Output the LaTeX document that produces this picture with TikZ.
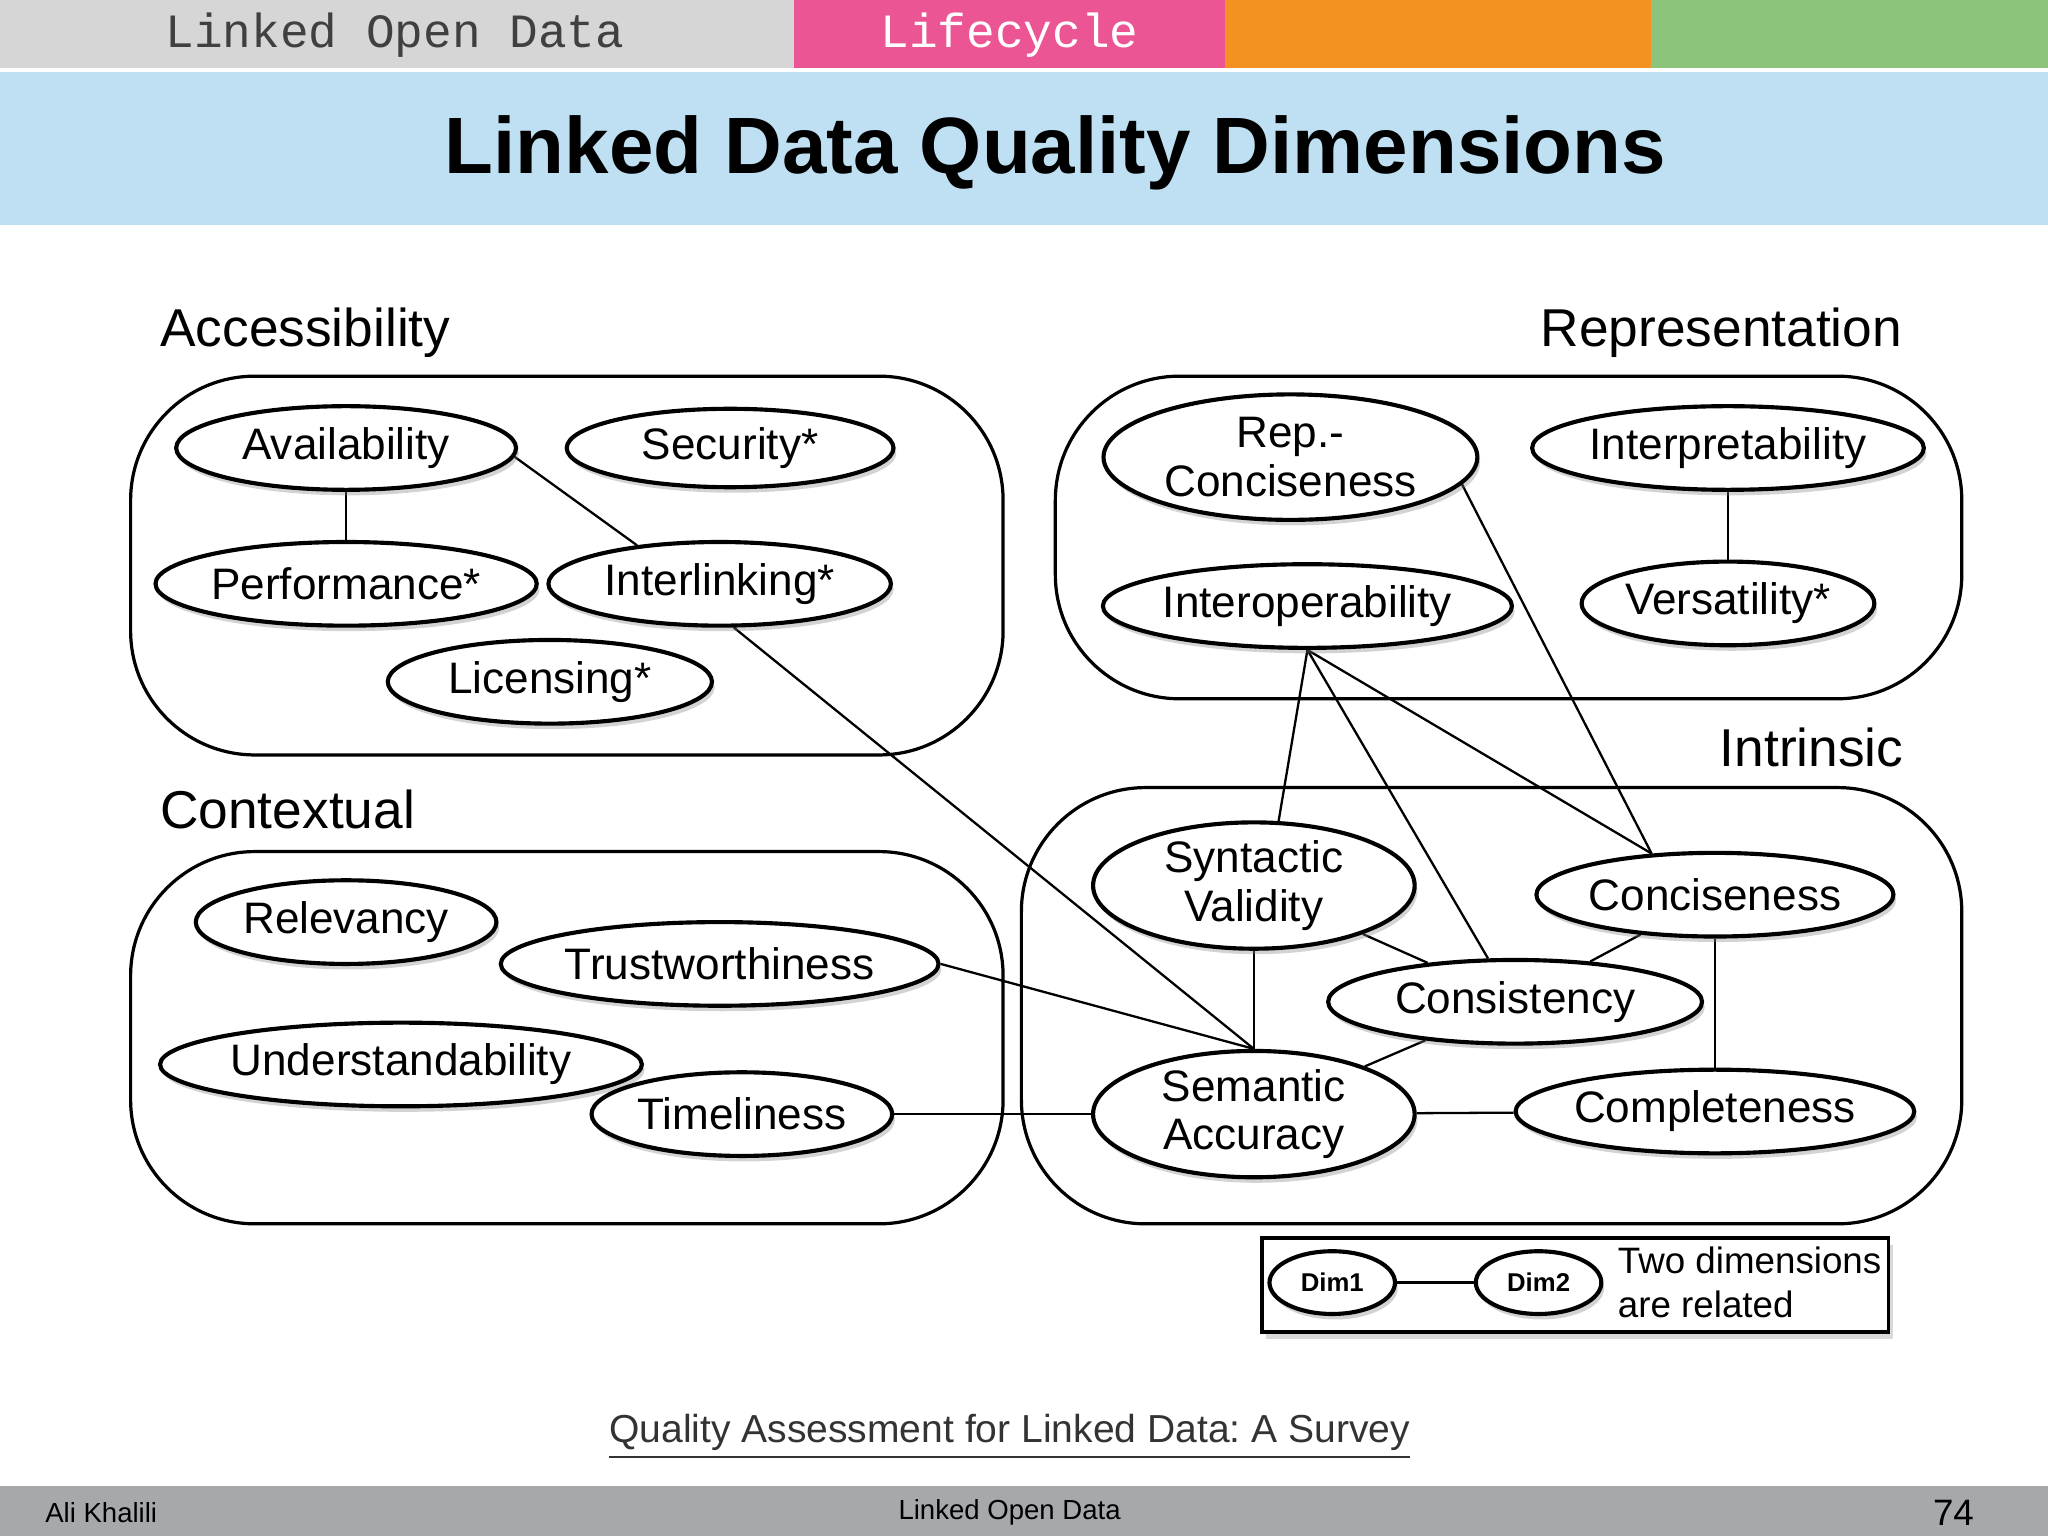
\documentclass[tikz,border=0pt]{standalone}
\usepackage{fontspec}
\setmainfont{Liberation Sans}
\newfontfamily\monof{Liberation Mono}
\usetikzlibrary{shapes.geometric,shadows,backgrounds}
\frenchspacing
\definecolor{topgray}{HTML}{D6D6D6}
\definecolor{tpink}{HTML}{EC5593}
\definecolor{torange}{HTML}{F39121}
\definecolor{tgreen}{HTML}{8DC47C}
\definecolor{tblue}{HTML}{BEE0F2}
\definecolor{fgray}{HTML}{A6A9AB}
\tikzset{
 dim/.style 2 args={ellipse, draw, line width=0.9pt, fill=white, inner sep=0pt,
   minimum width=#1*0.02cm, minimum height=#2*0.02cm, font=\fontsize{9.6}{10.5}\selectfont, align=center,
   drop shadow={shadow xshift=0.6pt, shadow yshift=-1.2pt, opacity=0.35}},
 grp/.style={draw, line width=0.7pt, rounded corners=0.95cm},
 glabel/.style={font=\fontsize{11.6}{13}\selectfont, inner sep=0pt},
 rel/.style={line width=0.5pt}
}
\begin{document}
\begin{tikzpicture}[x=0.01cm,y=-0.01cm]
\useasboundingbox (0,0) rectangle (1568,1176);
% top bar
\fill[topgray] (0,0) rectangle (608,52);
\fill[tpink] (608,0) rectangle (938,52);
\fill[torange] (938,0) rectangle (1264,52);
\fill[tgreen] (1264,0) rectangle (1568,52);
\node[font=\monof\fontsize{10.4}{12}\selectfont, text=black!75, anchor=west, inner sep=0] (tl) at (126,27) {Linked Open Data};
\node[font=\monof\fontsize{10.4}{12}\selectfont, text=white, inner sep=0] (tc) at (773,27) {Lifecycle};
\fill[tblue] (0,55) rectangle (1568,172);
\node[font=\bfseries\fontsize{17.4}{20}\selectfont, inner sep=0] (title) at (808,117) {Linked Data Quality Dimensions};
% groups
\draw[grp] (100,288) rectangle (768,578);
\draw[grp] (808,288) rectangle (1502,535);
\draw[grp] (100,652) rectangle (768,937);
\draw[grp] (782,603) rectangle (1502,937);
\node[glabel, anchor=west] (la) at (122,255) {Accessibility};
\node[glabel, anchor=east] (lr) at (1457,255) {Representation};
\node[glabel, anchor=west] (lc) at (122,620) {Contextual};
\node[glabel, anchor=east] (li) at (1458,572) {Intrinsic};
% nodes
\node[dim={130}{32}] (avail) at (265,343) {Availability};
\node[dim={125}{30}] (secur) at (559,343) {Security*};
\node[dim={143}{32}] (perf) at (265,447) {Performance*};
\node[dim={131}{32}] (inter) at (551,447) {Interlinking*};
\node[dim={124}{32}] (lic) at (421,522) {Licensing*};
\node[dim={143}{48}] (repc) at (988,350) {Rep.-\\Conciseness};
\node[dim={147}{32}] (interp) at (1323,343) {Interpretability};
\node[dim={152}{32}] (interop) at (1001,464) {Interoperability};
\node[dim={112}{32}] (vers) at (1323,462) {Versatility*};
\node[dim={115}{32}] (relev) at (265,706) {Relevancy};
\node[dim={167}{32}] (trust) at (551,738) {Trustworthiness};
\node[dim={177}{32}] (under) at (307,815) {Understandability};
\node[dim={115}{32}] (time) at (568,853) {Timeliness};
\node[dim={123}{45}] (synt) at (960,678) {Syntactic\\Validity};
\node[dim={135}{32}] (conc) at (1313,685) {Conciseness};
\node[dim={143}{32}] (cons) at (1160,767) {Consistency};
\node[dim={123}{45}] (sem) at (960,853) {Semantic\\Accuracy};
\node[dim={152}{32}] (compl) at (1313,851) {Completeness};
% edges (behind nodes)
\begin{pgfonlayer}{background}
\draw[rel] (avail) -- (perf);
\draw[rel] (avail.-3) -- (inter.155);
\draw[rel] (inter.-72) -- (sem.90);
\draw[rel] (repc.-9) -- (conc.147);
\draw[rel] (interp) -- (vers);
\draw[rel] (interop.south) -- (synt.69);
\draw[rel] (interop.south) -- (cons.122);
\draw[rel] (interop.south) -- (conc.147);
\draw[rel] (synt) -- (cons);
\draw[rel] (synt) -- (sem);
\draw[rel] (cons) -- (conc);
\draw[rel] (cons) -- (sem);
\draw[rel] (trust.east) -- (sem.90);
\draw[rel] (time) -- (sem);
\draw[rel] (sem) -- (compl);
\draw[rel] (conc) -- (compl);
\end{pgfonlayer}
% legend
\draw[line width=0.8pt, drop shadow={shadow xshift=1pt, shadow yshift=-1.5pt, opacity=0.3}, fill=white] (966,948) rectangle (1446,1020);
\node[dim={48}{24}, font=\bfseries\fontsize{5.6}{6}\selectfont] (d1) at (1020,982) {Dim1};
\node[dim={48}{24}, font=\bfseries\fontsize{5.6}{6}\selectfont] (d2) at (1178,982) {Dim2};
\draw[rel] (d1) -- (d2);
\node[anchor=west, align=left, font=\fontsize{8}{9.5}\selectfont, inner sep=0] (lt) at (1238,982) {Two dimensions\\are related};
% citation
\node[font=\fontsize{8.5}{10}\selectfont, text=black!80, inner sep=0] (cit) at (773,1100) {\underline{Quality Assessment for Linked Data: A Survey}};
% footer
\fill[fgray] (0,1138) rectangle (1568,1176);
\node[anchor=west, font=\fontsize{6}{7}\selectfont, inner sep=0] (f1) at (34,1158) {Ali Khalili};
\node[font=\fontsize{6}{7}\selectfont, inner sep=0] (f2) at (773,1158) {Linked Open Data};
\node[anchor=east, font=\fontsize{8}{9}\selectfont, inner sep=0] (f3) at (1512,1158) {74};
\end{tikzpicture}
\end{document}
